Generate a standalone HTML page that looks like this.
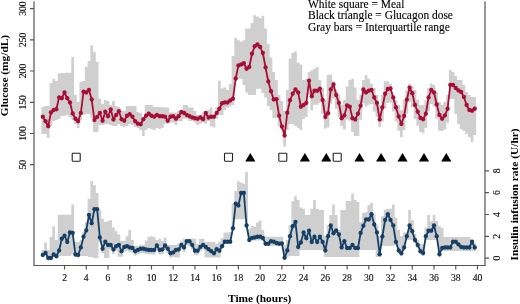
<!DOCTYPE html>
<html><head><meta charset="utf-8"><style>
html,body{margin:0;padding:0;background:#fff;}
svg{display:block;}
text{font-family:"Liberation Serif",serif;}
</style></head><body>
<svg width="520" height="304" viewBox="0 0 520 304">
<path d="M41.44 107h2.72V134h-2.72ZM44.16 106h2.72V134h-2.72ZM46.88 106h2.72V138h-2.72ZM49.59 83h2.72V126h-2.72ZM52.31 79h2.72V121h-2.72ZM55.03 81h2.72V120h-2.72ZM57.74 73.5h2.72V119h-2.72ZM60.46 73h2.72V116h-2.72ZM63.18 73h2.72V116h-2.72ZM65.89 72.75h2.72V115h-2.72ZM68.61 72.75h2.72V117h-2.72ZM71.33 57h2.72V120h-2.72ZM74.04 95h2.72V124h-2.72ZM76.76 102h2.72V128h-2.72ZM79.48 82h2.72V120h-2.72ZM82.19 81h2.72V115h-2.72ZM84.91 67h2.72V114h-2.72ZM87.63 61h2.72V114h-2.72ZM90.34 45.6h2.72V118h-2.72ZM93.06 52h2.72V132h-2.72ZM95.78 62h2.72V132h-2.72ZM98.49 98.75h2.72V125h-2.72ZM101.21 103.75h2.72V125h-2.72ZM103.93 100h2.72V124h-2.72ZM106.64 101h2.72V124h-2.72ZM109.36 105h2.72V125h-2.72ZM112.08 101h2.72V126h-2.72ZM114.79 106h2.72V126h-2.72ZM117.51 107h2.72V124h-2.72ZM120.23 111h2.72V126h-2.72ZM122.94 111h2.72V127h-2.72ZM125.66 106h2.72V126h-2.72ZM128.38 106h2.72V124h-2.72ZM131.09 106h2.72V125h-2.72ZM133.81 106h2.72V127h-2.72ZM136.53 112h2.72V128h-2.72ZM139.24 113h2.72V130h-2.72ZM141.96 118h2.72V136h-2.72ZM144.68 105h2.72V130h-2.72ZM147.39 105h2.72V128h-2.72ZM150.11 105h2.72V129h-2.72ZM152.83 107h2.72V130h-2.72ZM155.54 107h2.72V128h-2.72ZM158.26 107h2.72V129h-2.72ZM160.98 107h2.72V128h-2.72ZM163.69 107.5h2.72V123.75h-2.72ZM166.41 107.5h2.72V123.75h-2.72ZM169.13 112.5h2.72V122.5h-2.72ZM171.84 112.5h2.72V122.5h-2.72ZM174.56 112.5h2.72V125h-2.72ZM177.28 111h2.72V121.25h-2.72ZM179.99 111h2.72V121.25h-2.72ZM182.71 105h2.72V118.75h-2.72ZM185.43 105h2.72V118.75h-2.72ZM188.14 107.5h2.72V121h-2.72ZM190.86 107.5h2.72V121h-2.72ZM193.58 111h2.72V122.5h-2.72ZM196.29 115h2.72V125h-2.72ZM199.01 115h2.72V123.75h-2.72ZM201.73 112.5h2.72V122.5h-2.72ZM204.44 115h2.72V123.75h-2.72ZM207.16 110h2.72V121h-2.72ZM209.88 107.5h2.72V126.25h-2.72ZM212.59 115h2.72V127.5h-2.72ZM215.31 107.5h2.72V118.75h-2.72ZM218.03 80.75h2.72V115h-2.72ZM220.74 88.5h2.72V115h-2.72ZM223.46 87.5h2.72V110h-2.72ZM226.18 90h2.72V107.5h-2.72ZM228.89 84h2.72V106.25h-2.72ZM231.61 56h2.72V105h-2.72ZM234.33 37.75h2.72V81.5h-2.72ZM237.04 40.25h2.72V78.75h-2.72ZM239.76 41.75h2.72V78.75h-2.72ZM242.48 40.25h2.72V85h-2.72ZM245.19 28.6h2.72V92.5h-2.72ZM247.91 28.6h2.72V95h-2.72ZM250.63 23h2.72V95h-2.72ZM253.34 15.25h2.72V95h-2.72ZM256.06 16.5h2.72V88.75h-2.72ZM258.78 18h2.72V88.75h-2.72ZM261.49 15.75h2.72V93h-2.72ZM264.21 28.6h2.72V97.5h-2.72ZM266.93 44h2.72V106h-2.72ZM269.64 57.5h2.72V110h-2.72ZM272.36 72h2.72V118h-2.72ZM275.08 80h2.72V118h-2.72ZM277.79 95h2.72V126h-2.72ZM280.51 101h2.72V130h-2.72ZM283.23 111h2.72V146.5h-2.72ZM285.94 90h2.72V130h-2.72ZM288.66 58.75h2.72V124h-2.72ZM291.38 53h2.72V124h-2.72ZM294.09 51.25h2.72V126h-2.72ZM296.81 62.5h2.72V128h-2.72ZM299.53 64.4h2.72V130h-2.72ZM302.24 80h2.72V119h-2.72ZM304.96 78.75h2.72V117h-2.72ZM307.68 72h2.72V94.75h-2.72ZM310.39 70.6h2.72V110.25h-2.72ZM313.11 68.75h2.72V104.75h-2.72ZM315.83 67h2.72V104.75h-2.72ZM318.55 80h2.72V102.75h-2.72ZM321.26 88h2.72V114h-2.72ZM323.98 100h2.72V128.5h-2.72ZM326.7 75h2.72V127.25h-2.72ZM329.41 74.75h2.72V103.5h-2.72ZM332.13 81.25h2.72V98.5h-2.72ZM334.85 90h2.72V109h-2.72ZM337.56 95h2.72V117h-2.72ZM340.28 105h2.72V126h-2.72ZM343 100h2.72V129.5h-2.72ZM345.71 86.25h2.72V119.5h-2.72ZM348.43 80h2.72V120.75h-2.72ZM351.15 78.75h2.72V132h-2.72ZM353.86 87.5h2.72V136h-2.72ZM356.58 100h2.72V136h-2.72ZM359.3 95h2.72V119.75h-2.72ZM362.01 80h2.72V103.5h-2.72ZM364.73 75h2.72V106.5h-2.72ZM367.45 78.75h2.72V104.75h-2.72ZM370.16 83.75h2.72V104h-2.72ZM372.88 88h2.72V111.5h-2.72ZM375.6 95h2.72V117h-2.72ZM378.31 105h2.72V127h-2.72ZM381.03 95h2.72V121.5h-2.72ZM383.75 81.25h2.72V107.75h-2.72ZM386.46 81.25h2.72V103h-2.72ZM389.18 83.75h2.72V102.5h-2.72ZM391.9 97.5h2.72V111.5h-2.72ZM394.61 100h2.72V121.5h-2.72ZM397.33 105h2.72V130.5h-2.72ZM400.05 110h2.72V137h-2.72ZM402.76 100h2.72V130h-2.72ZM405.48 90h2.72V113.75h-2.72ZM408.2 84h2.72V101.75h-2.72ZM410.91 86h2.72V107.25h-2.72ZM413.63 90h2.72V119h-2.72ZM416.35 100h2.72V125.75h-2.72ZM419.06 105h2.72V132h-2.72ZM421.78 105h2.72V133.25h-2.72ZM424.5 100h2.72V127.75h-2.72ZM427.21 88h2.72V111.5h-2.72ZM429.93 83.5h2.72V104h-2.72ZM432.65 85h2.72V106.5h-2.72ZM435.36 92h2.72V118.5h-2.72ZM438.08 102h2.72V130.7h-2.72ZM440.8 105h2.72V131h-2.72ZM443.51 102h2.72V129.5h-2.72ZM446.23 95h2.72V122.75h-2.72ZM448.95 70h2.72V99h-2.72ZM451.66 72h2.72V99h-2.72ZM454.38 76h2.72V114h-2.72ZM457.1 80h2.72V124h-2.72ZM459.81 80h2.72V129h-2.72ZM462.53 85h2.72V131h-2.72ZM465.25 92h2.72V134h-2.72ZM467.96 95h2.72V137h-2.72ZM470.68 97h2.72V142h-2.72ZM473.4 97h2.72V135h-2.72ZM41.44 250h2.72V257h-2.72ZM44.16 242.5h2.72V255h-2.72ZM46.88 250h2.72V260h-2.72ZM49.59 237h2.72V260h-2.72ZM52.31 226.25h2.72V256.5h-2.72ZM55.03 240h2.72V258.25h-2.72ZM57.74 214.75h2.72V256h-2.72ZM60.46 214.75h2.72V256h-2.72ZM63.18 214.75h2.72V256h-2.72ZM65.89 214.75h2.72V256h-2.72ZM68.61 214.75h2.72V256h-2.72ZM71.33 204.4h2.72V254h-2.72ZM74.04 242h2.72V257h-2.72ZM76.76 242h2.72V257h-2.72ZM79.48 240h2.72V256h-2.72ZM82.19 232h2.72V256h-2.72ZM84.91 222h2.72V256h-2.72ZM87.63 198.75h2.72V257h-2.72ZM90.34 181h2.72V257h-2.72ZM93.06 185h2.72V258h-2.72ZM95.78 193h2.72V258h-2.72ZM98.49 210h2.72V242h-2.72ZM101.21 218.75h2.72V253.25h-2.72ZM103.93 221.9h2.72V258h-2.72ZM106.64 221.25h2.72V258h-2.72ZM109.36 220h2.72V249.5h-2.72ZM112.08 227.5h2.72V254h-2.72ZM114.79 231.25h2.72V250.75h-2.72ZM117.51 234.4h2.72V256.75h-2.72ZM120.23 241h2.72V256.75h-2.72ZM122.94 241h2.72V251.5h-2.72ZM125.66 236.25h2.72V250.75h-2.72ZM128.38 230h2.72V252h-2.72ZM131.09 240h2.72V252.5h-2.72ZM133.81 246h2.72V255.75h-2.72ZM136.53 246h2.72V254.5h-2.72ZM139.24 245h2.72V253.25h-2.72ZM141.96 245h2.72V253.25h-2.72ZM144.68 240.6h2.72V254h-2.72ZM147.39 236.9h2.72V254.5h-2.72ZM150.11 236.25h2.72V254.5h-2.72ZM152.83 236.9h2.72V254.5h-2.72ZM155.54 240h2.72V250h-2.72ZM158.26 238.75h2.72V254.5h-2.72ZM160.98 241h2.72V254h-2.72ZM163.69 237.5h2.72V250h-2.72ZM166.41 245h2.72V253.25h-2.72ZM169.13 245h2.72V257.75h-2.72ZM171.84 245h2.72V257h-2.72ZM174.56 245h2.72V257.5h-2.72ZM177.28 243.75h2.72V257.5h-2.72ZM179.99 241.25h2.72V249.5h-2.72ZM182.71 238.75h2.72V252h-2.72ZM185.43 238.75h2.72V245.75h-2.72ZM188.14 238.75h2.72V245.75h-2.72ZM190.86 238.75h2.72V249.5h-2.72ZM193.58 238.75h2.72V255.25h-2.72ZM196.29 244h2.72V255.25h-2.72ZM199.01 238.75h2.72V251.5h-2.72ZM201.73 238.75h2.72V249.5h-2.72ZM204.44 242h2.72V257.5h-2.72ZM207.16 242h2.72V257.5h-2.72ZM209.88 242h2.72V257.5h-2.72ZM212.59 242h2.72V257.5h-2.72ZM215.31 244h2.72V257.5h-2.72ZM218.03 242h2.72V257.5h-2.72ZM220.74 238h2.72V248.25h-2.72ZM223.46 232.5h2.72V243.75h-2.72ZM226.18 232.4h2.72V243.75h-2.72ZM228.89 232h2.72V243.75h-2.72ZM231.61 203.75h2.72V230.25h-2.72ZM234.33 191h2.72V219.25h-2.72ZM237.04 181.25h2.72V219.25h-2.72ZM239.76 182.5h2.72V219.25h-2.72ZM242.48 183.75h2.72V219.25h-2.72ZM245.19 172h2.72V227.5h-2.72ZM247.91 229h2.72V242h-2.72ZM250.63 226h2.72V240.5h-2.72ZM253.34 226.75h2.72V240.5h-2.72ZM256.06 222.4h2.72V240.5h-2.72ZM258.78 220.5h2.72V240.5h-2.72ZM261.49 230h2.72V240.5h-2.72ZM264.21 236.75h2.72V246h-2.72ZM266.93 236.75h2.72V246h-2.72ZM269.64 236.75h2.72V246h-2.72ZM272.36 236.75h2.72V246h-2.72ZM275.08 236.75h2.72V246h-2.72ZM277.79 236.75h2.72V246h-2.72ZM280.51 236.75h2.72V246h-2.72ZM283.23 245h2.72V259.75h-2.72ZM285.94 240h2.72V257h-2.72ZM288.66 225h2.72V256h-2.72ZM291.38 201.25h2.72V256h-2.72ZM294.09 196.25h2.72V256h-2.72ZM296.81 200h2.72V256h-2.72ZM299.53 207.5h2.72V250h-2.72ZM302.24 208.75h2.72V250h-2.72ZM304.96 215h2.72V250h-2.72ZM307.68 215h2.72V250h-2.72ZM310.39 208.75h2.72V250h-2.72ZM313.11 200h2.72V250h-2.72ZM315.83 208.75h2.72V250h-2.72ZM318.55 210h2.72V250h-2.72ZM321.26 210h2.72V250h-2.72ZM323.98 236h2.72V257h-2.72ZM326.7 225h2.72V257h-2.72ZM329.41 215h2.72V257h-2.72ZM332.13 204.5h2.72V257h-2.72ZM334.85 215h2.72V257h-2.72ZM337.56 230h2.72V257h-2.72ZM340.28 210h2.72V257h-2.72ZM343 210h2.72V257h-2.72ZM345.71 201h2.72V257h-2.72ZM348.43 201h2.72V257h-2.72ZM351.15 193.75h2.72V257h-2.72ZM353.86 200h2.72V257h-2.72ZM356.58 202h2.72V257h-2.72ZM359.3 222h2.72V250h-2.72ZM362.01 213h2.72V250h-2.72ZM364.73 212h2.72V250h-2.72ZM367.45 205h2.72V250h-2.72ZM370.16 203h2.72V250h-2.72ZM372.88 213.75h2.72V250h-2.72ZM375.6 225h2.72V257h-2.72ZM378.31 236h2.72V257h-2.72ZM381.03 216.25h2.72V246h-2.72ZM383.75 210h2.72V246h-2.72ZM386.46 208.75h2.72V246h-2.72ZM389.18 208.75h2.72V246h-2.72ZM391.9 204.5h2.72V246h-2.72ZM394.61 217.5h2.72V245h-2.72ZM397.33 230h2.72V253.5h-2.72ZM400.05 236.25h2.72V256.25h-2.72ZM402.76 232.5h2.72V250.5h-2.72ZM405.48 232.5h2.72V240h-2.72ZM408.2 210h2.72V240h-2.72ZM410.91 220h2.72V240h-2.72ZM413.63 233.75h2.72V243h-2.72ZM416.35 240h2.72V248h-2.72ZM419.06 244h2.72V254.25h-2.72ZM421.78 244h2.72V256h-2.72ZM424.5 227.5h2.72V240h-2.72ZM427.21 215h2.72V240h-2.72ZM429.93 221.25h2.72V240h-2.72ZM432.65 215h2.72V240h-2.72ZM435.36 221.25h2.72V240h-2.72ZM438.08 226.25h2.72V257.25h-2.72ZM440.8 228h2.72V251h-2.72ZM443.51 237h2.72V251h-2.72ZM446.23 237h2.72V251h-2.72ZM448.95 237h2.72V251h-2.72ZM451.66 237h2.72V251h-2.72ZM454.38 237h2.72V251h-2.72ZM457.1 237h2.72V251h-2.72ZM459.81 237h2.72V251h-2.72ZM462.53 237h2.72V251h-2.72ZM465.25 237h2.72V251h-2.72ZM467.96 237h2.72V251h-2.72ZM470.68 239.75h2.72V251h-2.72ZM473.4 243h2.72V251h-2.72Z" fill="#cfcfcf"/>
<polyline points="42.8,116.75 45.52,121.25 48.23,126.25 50.95,112.5 53.67,110 56.38,109.25 59.1,97.5 61.82,98.25 64.53,92.5 67.25,98.25 69.97,102.5 72.68,113.5 75.4,118.75 78.12,121.25 80.83,113 83.55,91.75 86.27,92.5 88.98,90 91.7,99.5 94.42,120 97.13,117 99.85,113 102.57,120.75 105.28,111.75 108,116.25 110.72,109.5 113.43,119.5 116.15,115 118.87,111.25 121.58,119.25 124.3,120.75 127.02,115.75 129.73,114.25 132.45,116.75 135.17,121.25 137.88,123.75 140.6,124.25 143.32,119.25 146.03,115.75 148.75,113.75 151.47,115.75 154.18,116.75 156.9,115 159.62,116.25 162.33,116.25 165.05,116.75 167.77,120.75 170.48,116.75 173.2,116.25 175.92,118.75 178.63,116.25 181.35,112 184.07,113 186.79,115 189.5,116.25 192.22,117.5 194.94,118.25 197.65,118.75 200.37,117.5 203.09,119.25 205.8,113 208.52,117.5 211.24,116.75 213.95,116.75 216.67,113 219.39,108.75 222.1,103.25 224.82,102.5 227.54,102.5 230.25,100.5 232.97,98.75 235.69,78.5 238.4,65.5 241.12,64.5 243.84,63.25 246.55,68.75 249.27,67 251.99,53.75 254.7,46.25 257.42,44.5 260.14,47 262.85,53 265.57,67.5 268.29,81.5 271,91.25 273.72,99.5 276.44,99.25 279.15,115.75 281.87,126.5 284.59,135.5 287.3,112.75 290.02,100.25 292.74,93.75 295.45,89.5 298.17,92.5 300.89,106.75 303.6,105 306.32,103 309.04,80.75 311.75,96.25 314.47,90.75 317.19,90.75 319.9,88.75 322.62,100 325.34,117 328.05,113.25 330.77,89.5 333.49,84.5 336.2,95 338.92,103 341.64,118.25 344.35,115.5 347.07,105.5 349.79,106.75 352.5,118.25 355.22,119.5 357.94,113.75 360.65,105.75 363.37,89.5 366.09,92.5 368.8,90.75 371.52,90 374.24,97.5 376.95,103 379.67,119.5 382.39,107.5 385.1,93.75 387.82,89 390.54,88.5 393.25,97.5 395.97,107.5 398.69,116.5 401.4,124 404.12,116 406.84,99.75 409.55,87.75 412.27,93.25 414.99,105 417.7,111.75 420.42,118 423.14,119.25 425.85,113.75 428.57,97.5 431.29,90 434,92.5 436.72,104.5 439.44,115 442.15,118.75 444.87,115.5 447.59,108.75 450.31,85 453.02,85 455.74,88 458.46,90.5 461.17,92 463.89,97 466.61,105 469.32,110 472.04,110.75 474.76,108.75" fill="none" stroke="#a80d36" stroke-width="1.8" stroke-linejoin="round"/>
<g fill="#a80d36"><circle cx="42.8" cy="116.75" r="2.15"/><circle cx="45.52" cy="121.25" r="2.15"/><circle cx="48.23" cy="126.25" r="2.15"/><circle cx="50.95" cy="112.5" r="2.15"/><circle cx="53.67" cy="110" r="2.15"/><circle cx="56.38" cy="109.25" r="2.15"/><circle cx="59.1" cy="97.5" r="2.15"/><circle cx="61.82" cy="98.25" r="2.15"/><circle cx="64.53" cy="92.5" r="2.15"/><circle cx="67.25" cy="98.25" r="2.15"/><circle cx="69.97" cy="102.5" r="2.15"/><circle cx="72.68" cy="113.5" r="2.15"/><circle cx="75.4" cy="118.75" r="2.15"/><circle cx="78.12" cy="121.25" r="2.15"/><circle cx="80.83" cy="113" r="2.15"/><circle cx="83.55" cy="91.75" r="2.15"/><circle cx="86.27" cy="92.5" r="2.15"/><circle cx="88.98" cy="90" r="2.15"/><circle cx="91.7" cy="99.5" r="2.15"/><circle cx="94.42" cy="120" r="2.15"/><circle cx="97.13" cy="117" r="2.15"/><circle cx="99.85" cy="113" r="2.15"/><circle cx="102.57" cy="120.75" r="2.15"/><circle cx="105.28" cy="111.75" r="2.15"/><circle cx="108" cy="116.25" r="2.15"/><circle cx="110.72" cy="109.5" r="2.15"/><circle cx="113.43" cy="119.5" r="2.15"/><circle cx="116.15" cy="115" r="2.15"/><circle cx="118.87" cy="111.25" r="2.15"/><circle cx="121.58" cy="119.25" r="2.15"/><circle cx="124.3" cy="120.75" r="2.15"/><circle cx="127.02" cy="115.75" r="2.15"/><circle cx="129.73" cy="114.25" r="2.15"/><circle cx="132.45" cy="116.75" r="2.15"/><circle cx="135.17" cy="121.25" r="2.15"/><circle cx="137.88" cy="123.75" r="2.15"/><circle cx="140.6" cy="124.25" r="2.15"/><circle cx="143.32" cy="119.25" r="2.15"/><circle cx="146.03" cy="115.75" r="2.15"/><circle cx="148.75" cy="113.75" r="2.15"/><circle cx="151.47" cy="115.75" r="2.15"/><circle cx="154.18" cy="116.75" r="2.15"/><circle cx="156.9" cy="115" r="2.15"/><circle cx="159.62" cy="116.25" r="2.15"/><circle cx="162.33" cy="116.25" r="2.15"/><circle cx="165.05" cy="116.75" r="2.15"/><circle cx="167.77" cy="120.75" r="2.15"/><circle cx="170.48" cy="116.75" r="2.15"/><circle cx="173.2" cy="116.25" r="2.15"/><circle cx="175.92" cy="118.75" r="2.15"/><circle cx="178.63" cy="116.25" r="2.15"/><circle cx="181.35" cy="112" r="2.15"/><circle cx="184.07" cy="113" r="2.15"/><circle cx="186.79" cy="115" r="2.15"/><circle cx="189.5" cy="116.25" r="2.15"/><circle cx="192.22" cy="117.5" r="2.15"/><circle cx="194.94" cy="118.25" r="2.15"/><circle cx="197.65" cy="118.75" r="2.15"/><circle cx="200.37" cy="117.5" r="2.15"/><circle cx="203.09" cy="119.25" r="2.15"/><circle cx="205.8" cy="113" r="2.15"/><circle cx="208.52" cy="117.5" r="2.15"/><circle cx="211.24" cy="116.75" r="2.15"/><circle cx="213.95" cy="116.75" r="2.15"/><circle cx="216.67" cy="113" r="2.15"/><circle cx="219.39" cy="108.75" r="2.15"/><circle cx="222.1" cy="103.25" r="2.15"/><circle cx="224.82" cy="102.5" r="2.15"/><circle cx="227.54" cy="102.5" r="2.15"/><circle cx="230.25" cy="100.5" r="2.15"/><circle cx="232.97" cy="98.75" r="2.15"/><circle cx="235.69" cy="78.5" r="2.15"/><circle cx="238.4" cy="65.5" r="2.15"/><circle cx="241.12" cy="64.5" r="2.15"/><circle cx="243.84" cy="63.25" r="2.15"/><circle cx="246.55" cy="68.75" r="2.15"/><circle cx="249.27" cy="67" r="2.15"/><circle cx="251.99" cy="53.75" r="2.15"/><circle cx="254.7" cy="46.25" r="2.15"/><circle cx="257.42" cy="44.5" r="2.15"/><circle cx="260.14" cy="47" r="2.15"/><circle cx="262.85" cy="53" r="2.15"/><circle cx="265.57" cy="67.5" r="2.15"/><circle cx="268.29" cy="81.5" r="2.15"/><circle cx="271" cy="91.25" r="2.15"/><circle cx="273.72" cy="99.5" r="2.15"/><circle cx="276.44" cy="99.25" r="2.15"/><circle cx="279.15" cy="115.75" r="2.15"/><circle cx="281.87" cy="126.5" r="2.15"/><circle cx="284.59" cy="135.5" r="2.15"/><circle cx="287.3" cy="112.75" r="2.15"/><circle cx="290.02" cy="100.25" r="2.15"/><circle cx="292.74" cy="93.75" r="2.15"/><circle cx="295.45" cy="89.5" r="2.15"/><circle cx="298.17" cy="92.5" r="2.15"/><circle cx="300.89" cy="106.75" r="2.15"/><circle cx="303.6" cy="105" r="2.15"/><circle cx="306.32" cy="103" r="2.15"/><circle cx="309.04" cy="80.75" r="2.15"/><circle cx="311.75" cy="96.25" r="2.15"/><circle cx="314.47" cy="90.75" r="2.15"/><circle cx="317.19" cy="90.75" r="2.15"/><circle cx="319.9" cy="88.75" r="2.15"/><circle cx="322.62" cy="100" r="2.15"/><circle cx="325.34" cy="117" r="2.15"/><circle cx="328.05" cy="113.25" r="2.15"/><circle cx="330.77" cy="89.5" r="2.15"/><circle cx="333.49" cy="84.5" r="2.15"/><circle cx="336.2" cy="95" r="2.15"/><circle cx="338.92" cy="103" r="2.15"/><circle cx="341.64" cy="118.25" r="2.15"/><circle cx="344.35" cy="115.5" r="2.15"/><circle cx="347.07" cy="105.5" r="2.15"/><circle cx="349.79" cy="106.75" r="2.15"/><circle cx="352.5" cy="118.25" r="2.15"/><circle cx="355.22" cy="119.5" r="2.15"/><circle cx="357.94" cy="113.75" r="2.15"/><circle cx="360.65" cy="105.75" r="2.15"/><circle cx="363.37" cy="89.5" r="2.15"/><circle cx="366.09" cy="92.5" r="2.15"/><circle cx="368.8" cy="90.75" r="2.15"/><circle cx="371.52" cy="90" r="2.15"/><circle cx="374.24" cy="97.5" r="2.15"/><circle cx="376.95" cy="103" r="2.15"/><circle cx="379.67" cy="119.5" r="2.15"/><circle cx="382.39" cy="107.5" r="2.15"/><circle cx="385.1" cy="93.75" r="2.15"/><circle cx="387.82" cy="89" r="2.15"/><circle cx="390.54" cy="88.5" r="2.15"/><circle cx="393.25" cy="97.5" r="2.15"/><circle cx="395.97" cy="107.5" r="2.15"/><circle cx="398.69" cy="116.5" r="2.15"/><circle cx="401.4" cy="124" r="2.15"/><circle cx="404.12" cy="116" r="2.15"/><circle cx="406.84" cy="99.75" r="2.15"/><circle cx="409.55" cy="87.75" r="2.15"/><circle cx="412.27" cy="93.25" r="2.15"/><circle cx="414.99" cy="105" r="2.15"/><circle cx="417.7" cy="111.75" r="2.15"/><circle cx="420.42" cy="118" r="2.15"/><circle cx="423.14" cy="119.25" r="2.15"/><circle cx="425.85" cy="113.75" r="2.15"/><circle cx="428.57" cy="97.5" r="2.15"/><circle cx="431.29" cy="90" r="2.15"/><circle cx="434" cy="92.5" r="2.15"/><circle cx="436.72" cy="104.5" r="2.15"/><circle cx="439.44" cy="115" r="2.15"/><circle cx="442.15" cy="118.75" r="2.15"/><circle cx="444.87" cy="115.5" r="2.15"/><circle cx="447.59" cy="108.75" r="2.15"/><circle cx="450.31" cy="85" r="2.15"/><circle cx="453.02" cy="85" r="2.15"/><circle cx="455.74" cy="88" r="2.15"/><circle cx="458.46" cy="90.5" r="2.15"/><circle cx="461.17" cy="92" r="2.15"/><circle cx="463.89" cy="97" r="2.15"/><circle cx="466.61" cy="105" r="2.15"/><circle cx="469.32" cy="110" r="2.15"/><circle cx="472.04" cy="110.75" r="2.15"/><circle cx="474.76" cy="108.75" r="2.15"/></g>
<polyline points="42.8,255 45.52,253 48.23,258 50.95,258 53.67,254.5 56.38,256.25 59.1,250.5 61.82,238.75 64.53,235.75 67.25,242 69.97,232.5 72.68,233 75.4,254.5 78.12,255 80.83,247.5 83.55,236.75 86.27,230.5 88.98,215 91.7,223.25 94.42,209.25 97.13,209.25 99.85,237.5 102.57,248.75 105.28,241.75 108,245 110.72,245 113.43,249.5 116.15,246.25 118.87,245 121.58,251.25 124.3,247 127.02,246.25 129.73,247.5 132.45,248 135.17,251.25 137.88,250 140.6,248.75 143.32,248.75 146.03,249.5 148.75,250 151.47,250 154.18,250 156.9,245.5 159.62,250 162.33,249.5 165.05,245.5 167.77,248.75 170.48,253.25 173.2,252.5 175.92,250 178.63,249.5 181.35,245 184.07,247.5 186.79,241.25 189.5,241.25 192.22,245 194.94,250.75 197.65,250.75 200.37,247 203.09,245 205.8,247 208.52,249.25 211.24,251.25 213.95,253.25 216.67,249.25 219.39,250.75 222.1,246.25 224.82,241.75 227.54,241.75 230.25,241.75 232.97,228.25 235.69,203.75 238.4,205.5 241.12,193 243.84,193 246.55,225.5 249.27,240 251.99,238 254.7,237.5 257.42,236.75 260.14,236.75 262.85,238 265.57,243.75 268.29,243.75 271,241.25 273.72,241.75 276.44,243 279.15,243.75 281.87,243.5 284.59,257.75 287.3,250.5 290.02,236.25 292.74,226.25 295.45,222 298.17,247 300.89,242.5 303.6,232.5 306.32,238.25 309.04,230.75 311.75,242 314.47,236.75 317.19,242 319.9,236.75 322.62,242 325.34,250.5 328.05,236.25 330.77,225.5 333.49,233.25 336.2,230.5 338.92,234.5 341.64,247.5 344.35,241.25 347.07,248 349.79,248 352.5,245 355.22,248 357.94,248 360.65,233 363.37,225.75 366.09,219.5 368.8,219.5 371.52,214.25 374.24,224.5 376.95,232.5 379.67,254.25 382.39,236.5 385.1,220 387.82,214.25 390.54,220 393.25,225.5 395.97,242 398.69,250.5 401.4,253.25 404.12,247.5 406.84,236.25 409.55,225.5 412.27,231.25 414.99,240 417.7,245 420.42,251.25 423.14,253 425.85,236.25 428.57,230.75 431.29,230.75 434,225.5 436.72,236.25 439.44,254.25 442.15,248 444.87,247.5 447.59,247.5 450.31,247.5 453.02,241.75 455.74,241.75 458.46,244.5 461.17,247 463.89,247.5 466.61,247.5 469.32,247.5 472.04,241.75 474.76,247.5" fill="none" stroke="#163f66" stroke-width="1.8" stroke-linejoin="round"/>
<g fill="#163f66"><circle cx="42.8" cy="255" r="2.15"/><circle cx="45.52" cy="253" r="2.15"/><circle cx="48.23" cy="258" r="2.15"/><circle cx="50.95" cy="258" r="2.15"/><circle cx="53.67" cy="254.5" r="2.15"/><circle cx="56.38" cy="256.25" r="2.15"/><circle cx="59.1" cy="250.5" r="2.15"/><circle cx="61.82" cy="238.75" r="2.15"/><circle cx="64.53" cy="235.75" r="2.15"/><circle cx="67.25" cy="242" r="2.15"/><circle cx="69.97" cy="232.5" r="2.15"/><circle cx="72.68" cy="233" r="2.15"/><circle cx="75.4" cy="254.5" r="2.15"/><circle cx="78.12" cy="255" r="2.15"/><circle cx="80.83" cy="247.5" r="2.15"/><circle cx="83.55" cy="236.75" r="2.15"/><circle cx="86.27" cy="230.5" r="2.15"/><circle cx="88.98" cy="215" r="2.15"/><circle cx="91.7" cy="223.25" r="2.15"/><circle cx="94.42" cy="209.25" r="2.15"/><circle cx="97.13" cy="209.25" r="2.15"/><circle cx="99.85" cy="237.5" r="2.15"/><circle cx="102.57" cy="248.75" r="2.15"/><circle cx="105.28" cy="241.75" r="2.15"/><circle cx="108" cy="245" r="2.15"/><circle cx="110.72" cy="245" r="2.15"/><circle cx="113.43" cy="249.5" r="2.15"/><circle cx="116.15" cy="246.25" r="2.15"/><circle cx="118.87" cy="245" r="2.15"/><circle cx="121.58" cy="251.25" r="2.15"/><circle cx="124.3" cy="247" r="2.15"/><circle cx="127.02" cy="246.25" r="2.15"/><circle cx="129.73" cy="247.5" r="2.15"/><circle cx="132.45" cy="248" r="2.15"/><circle cx="135.17" cy="251.25" r="2.15"/><circle cx="137.88" cy="250" r="2.15"/><circle cx="140.6" cy="248.75" r="2.15"/><circle cx="143.32" cy="248.75" r="2.15"/><circle cx="146.03" cy="249.5" r="2.15"/><circle cx="148.75" cy="250" r="2.15"/><circle cx="151.47" cy="250" r="2.15"/><circle cx="154.18" cy="250" r="2.15"/><circle cx="156.9" cy="245.5" r="2.15"/><circle cx="159.62" cy="250" r="2.15"/><circle cx="162.33" cy="249.5" r="2.15"/><circle cx="165.05" cy="245.5" r="2.15"/><circle cx="167.77" cy="248.75" r="2.15"/><circle cx="170.48" cy="253.25" r="2.15"/><circle cx="173.2" cy="252.5" r="2.15"/><circle cx="175.92" cy="250" r="2.15"/><circle cx="178.63" cy="249.5" r="2.15"/><circle cx="181.35" cy="245" r="2.15"/><circle cx="184.07" cy="247.5" r="2.15"/><circle cx="186.79" cy="241.25" r="2.15"/><circle cx="189.5" cy="241.25" r="2.15"/><circle cx="192.22" cy="245" r="2.15"/><circle cx="194.94" cy="250.75" r="2.15"/><circle cx="197.65" cy="250.75" r="2.15"/><circle cx="200.37" cy="247" r="2.15"/><circle cx="203.09" cy="245" r="2.15"/><circle cx="205.8" cy="247" r="2.15"/><circle cx="208.52" cy="249.25" r="2.15"/><circle cx="211.24" cy="251.25" r="2.15"/><circle cx="213.95" cy="253.25" r="2.15"/><circle cx="216.67" cy="249.25" r="2.15"/><circle cx="219.39" cy="250.75" r="2.15"/><circle cx="222.1" cy="246.25" r="2.15"/><circle cx="224.82" cy="241.75" r="2.15"/><circle cx="227.54" cy="241.75" r="2.15"/><circle cx="230.25" cy="241.75" r="2.15"/><circle cx="232.97" cy="228.25" r="2.15"/><circle cx="235.69" cy="203.75" r="2.15"/><circle cx="238.4" cy="205.5" r="2.15"/><circle cx="241.12" cy="193" r="2.15"/><circle cx="243.84" cy="193" r="2.15"/><circle cx="246.55" cy="225.5" r="2.15"/><circle cx="249.27" cy="240" r="2.15"/><circle cx="251.99" cy="238" r="2.15"/><circle cx="254.7" cy="237.5" r="2.15"/><circle cx="257.42" cy="236.75" r="2.15"/><circle cx="260.14" cy="236.75" r="2.15"/><circle cx="262.85" cy="238" r="2.15"/><circle cx="265.57" cy="243.75" r="2.15"/><circle cx="268.29" cy="243.75" r="2.15"/><circle cx="271" cy="241.25" r="2.15"/><circle cx="273.72" cy="241.75" r="2.15"/><circle cx="276.44" cy="243" r="2.15"/><circle cx="279.15" cy="243.75" r="2.15"/><circle cx="281.87" cy="243.5" r="2.15"/><circle cx="284.59" cy="257.75" r="2.15"/><circle cx="287.3" cy="250.5" r="2.15"/><circle cx="290.02" cy="236.25" r="2.15"/><circle cx="292.74" cy="226.25" r="2.15"/><circle cx="295.45" cy="222" r="2.15"/><circle cx="298.17" cy="247" r="2.15"/><circle cx="300.89" cy="242.5" r="2.15"/><circle cx="303.6" cy="232.5" r="2.15"/><circle cx="306.32" cy="238.25" r="2.15"/><circle cx="309.04" cy="230.75" r="2.15"/><circle cx="311.75" cy="242" r="2.15"/><circle cx="314.47" cy="236.75" r="2.15"/><circle cx="317.19" cy="242" r="2.15"/><circle cx="319.9" cy="236.75" r="2.15"/><circle cx="322.62" cy="242" r="2.15"/><circle cx="325.34" cy="250.5" r="2.15"/><circle cx="328.05" cy="236.25" r="2.15"/><circle cx="330.77" cy="225.5" r="2.15"/><circle cx="333.49" cy="233.25" r="2.15"/><circle cx="336.2" cy="230.5" r="2.15"/><circle cx="338.92" cy="234.5" r="2.15"/><circle cx="341.64" cy="247.5" r="2.15"/><circle cx="344.35" cy="241.25" r="2.15"/><circle cx="347.07" cy="248" r="2.15"/><circle cx="349.79" cy="248" r="2.15"/><circle cx="352.5" cy="245" r="2.15"/><circle cx="355.22" cy="248" r="2.15"/><circle cx="357.94" cy="248" r="2.15"/><circle cx="360.65" cy="233" r="2.15"/><circle cx="363.37" cy="225.75" r="2.15"/><circle cx="366.09" cy="219.5" r="2.15"/><circle cx="368.8" cy="219.5" r="2.15"/><circle cx="371.52" cy="214.25" r="2.15"/><circle cx="374.24" cy="224.5" r="2.15"/><circle cx="376.95" cy="232.5" r="2.15"/><circle cx="379.67" cy="254.25" r="2.15"/><circle cx="382.39" cy="236.5" r="2.15"/><circle cx="385.1" cy="220" r="2.15"/><circle cx="387.82" cy="214.25" r="2.15"/><circle cx="390.54" cy="220" r="2.15"/><circle cx="393.25" cy="225.5" r="2.15"/><circle cx="395.97" cy="242" r="2.15"/><circle cx="398.69" cy="250.5" r="2.15"/><circle cx="401.4" cy="253.25" r="2.15"/><circle cx="404.12" cy="247.5" r="2.15"/><circle cx="406.84" cy="236.25" r="2.15"/><circle cx="409.55" cy="225.5" r="2.15"/><circle cx="412.27" cy="231.25" r="2.15"/><circle cx="414.99" cy="240" r="2.15"/><circle cx="417.7" cy="245" r="2.15"/><circle cx="420.42" cy="251.25" r="2.15"/><circle cx="423.14" cy="253" r="2.15"/><circle cx="425.85" cy="236.25" r="2.15"/><circle cx="428.57" cy="230.75" r="2.15"/><circle cx="431.29" cy="230.75" r="2.15"/><circle cx="434" cy="225.5" r="2.15"/><circle cx="436.72" cy="236.25" r="2.15"/><circle cx="439.44" cy="254.25" r="2.15"/><circle cx="442.15" cy="248" r="2.15"/><circle cx="444.87" cy="247.5" r="2.15"/><circle cx="447.59" cy="247.5" r="2.15"/><circle cx="450.31" cy="247.5" r="2.15"/><circle cx="453.02" cy="241.75" r="2.15"/><circle cx="455.74" cy="241.75" r="2.15"/><circle cx="458.46" cy="244.5" r="2.15"/><circle cx="461.17" cy="247" r="2.15"/><circle cx="463.89" cy="247.5" r="2.15"/><circle cx="466.61" cy="247.5" r="2.15"/><circle cx="469.32" cy="247.5" r="2.15"/><circle cx="472.04" cy="241.75" r="2.15"/><circle cx="474.76" cy="247.5" r="2.15"/></g>
<g fill="none" stroke="#222" stroke-width="1.1"><rect x="72.2" y="153.2" width="8" height="8" rx="0.6"/><rect x="224.5" y="153.2" width="8" height="8" rx="0.6"/><rect x="278.8" y="153.2" width="8" height="8" rx="0.6"/><rect x="333.2" y="153.2" width="8" height="8" rx="0.6"/></g>
<g fill="#000"><path d="M250.3 152.9L255.4 161.6H245.2Z"/><path d="M304.9 152.9L310 161.6H299.8Z"/><path d="M326.3 152.9L331.4 161.6H321.2Z"/><path d="M359.5 152.9L364.6 161.6H354.4Z"/><path d="M381.1 152.9L386.2 161.6H376Z"/><path d="M402.5 152.9L407.6 161.6H397.4Z"/><path d="M424 152.9L429.1 161.6H418.9Z"/><path d="M446.3 152.9L451.4 161.6H441.2Z"/></g>
<path d="M34 1.2V265.5H485V1.2" fill="none" stroke="#555" stroke-width="1.2"/>
<path d="M30 8.6H34M30 39.8H34M30 71H34M30 102.3H34M30 133.5H34M30 164.7H34M485 258.2H489M485 236.35H489M485 214.5H489M485 192.65H489M485 170.8H489M64.53 265.5V269.5M86.27 265.5V269.5M108 265.5V269.5M129.74 265.5V269.5M151.47 265.5V269.5M173.2 265.5V269.5M194.94 265.5V269.5M216.67 265.5V269.5M238.41 265.5V269.5M260.14 265.5V269.5M281.87 265.5V269.5M303.61 265.5V269.5M325.34 265.5V269.5M347.08 265.5V269.5M368.81 265.5V269.5M390.54 265.5V269.5M412.28 265.5V269.5M434.01 265.5V269.5M455.75 265.5V269.5M477.48 265.5V269.5" fill="none" stroke="#555" stroke-width="1.2"/>
<g font-size="9.6" fill="#111" stroke="#111" stroke-width="0.15"><text transform="translate(25.5 8.6) rotate(-90)" text-anchor="middle">300</text><text transform="translate(25.5 39.8) rotate(-90)" text-anchor="middle">250</text><text transform="translate(25.5 71) rotate(-90)" text-anchor="middle">200</text><text transform="translate(25.5 102.3) rotate(-90)" text-anchor="middle">150</text><text transform="translate(25.5 133.5) rotate(-90)" text-anchor="middle">100</text><text transform="translate(25.5 164.7) rotate(-90)" text-anchor="middle">50</text><text transform="translate(499.8 258.2) rotate(-90)" text-anchor="middle">0</text><text transform="translate(499.8 236.35) rotate(-90)" text-anchor="middle">2</text><text transform="translate(499.8 214.5) rotate(-90)" text-anchor="middle">4</text><text transform="translate(499.8 192.65) rotate(-90)" text-anchor="middle">6</text><text transform="translate(499.8 170.8) rotate(-90)" text-anchor="middle">8</text><text x="64.53" y="281" text-anchor="middle">2</text><text x="86.27" y="281" text-anchor="middle">4</text><text x="108" y="281" text-anchor="middle">6</text><text x="129.74" y="281" text-anchor="middle">8</text><text x="151.47" y="281" text-anchor="middle">10</text><text x="173.2" y="281" text-anchor="middle">12</text><text x="194.94" y="281" text-anchor="middle">14</text><text x="216.67" y="281" text-anchor="middle">16</text><text x="238.41" y="281" text-anchor="middle">18</text><text x="260.14" y="281" text-anchor="middle">20</text><text x="281.87" y="281" text-anchor="middle">22</text><text x="303.61" y="281" text-anchor="middle">24</text><text x="325.34" y="281" text-anchor="middle">26</text><text x="347.08" y="281" text-anchor="middle">28</text><text x="368.81" y="281" text-anchor="middle">30</text><text x="390.54" y="281" text-anchor="middle">32</text><text x="412.28" y="281" text-anchor="middle">34</text><text x="434.01" y="281" text-anchor="middle">36</text><text x="455.75" y="281" text-anchor="middle">38</text><text x="477.48" y="281" text-anchor="middle">40</text></g>
<g font-size="11.45" fill="#000" stroke="#000" stroke-width="0.12">
<text x="308" y="7.7">White square = Meal</text>
<text x="308" y="19.2">Black triangle = Glucagon dose</text>
<text x="308" y="30.7">Gray bars = Interquartile range</text>
</g>
<g font-size="11.4" font-weight="bold" fill="#000">
<text x="259.7" y="301.6" text-anchor="middle">Time (hours)</text>
<text transform="translate(8 75.5) rotate(-90)" text-anchor="middle">Glucose (mg/dL)</text>
<text transform="translate(518.3 194.4) rotate(-90)" text-anchor="middle">Insulin infusion rate (U/hr)</text>
</g>
</svg>
</body></html>
